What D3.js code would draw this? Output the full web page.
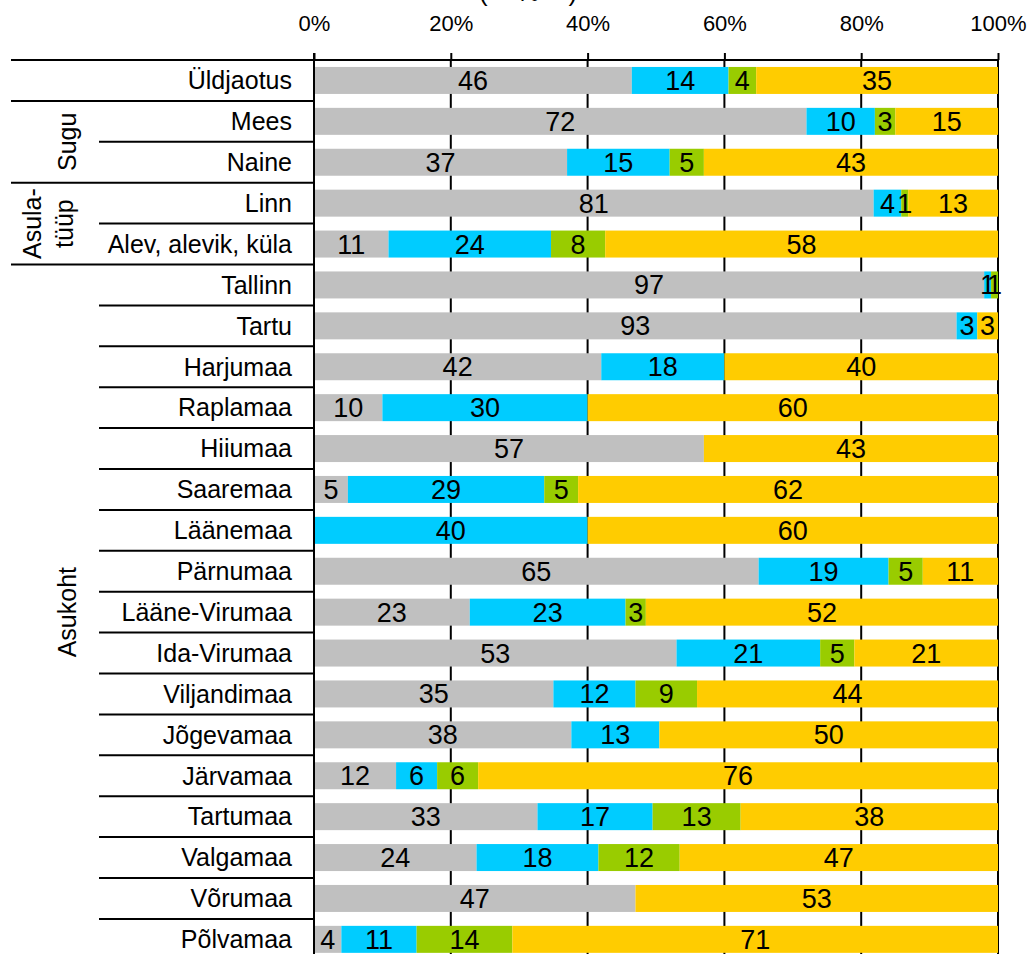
<!DOCTYPE html>
<html>
<head>
<meta charset="utf-8">
<script src="https://cdn.jsdelivr.net/npm/d3@7"></script>
<style>
  body { margin: 0; background: #fff; }
  svg { display: block; font-family: "Liberation Sans", Arial, sans-serif; }
</style>
</head>
<body>
<div id="wrapper"></div>
<script>
// kategooriad ja väärtused (%)
const categories = ["Üldjaotus", "Mees", "Naine", "Linn", "Alev, alevik, küla",
    "Tallinn", "Tartu", "Harjumaa", "Raplamaa", "Hiiumaa", "Saaremaa", "Läänemaa",
    "Pärnumaa", "Lääne-Virumaa", "Ida-Virumaa", "Viljandimaa", "Jõgevamaa",
    "Järvamaa", "Tartumaa", "Valgamaa", "Võrumaa", "Põlvamaa"];
const greyValues  = [46, 72, 37, 81, 11, 97, 93, 42, 10, 57,  5,  0, 65, 23, 53, 35, 38, 12, 33, 24, 47,  4];
const cyanValues  = [14, 10, 15,  4, 24,  1,  3, 18, 30,  0, 29, 40, 19, 23, 21, 12, 13,  6, 17, 18,  0, 11];
const greenValues = [ 4,  3,  5,  1,  8,  1,  0,  0,  0,  0,  5,  0,  5,  3,  5,  9,  0,  6, 13, 12,  0, 14];
const goldValues  = [35, 15, 43, 13, 58,  0,  3, 40, 60, 43, 62, 60, 11, 52, 21, 44, 50, 76, 38, 47, 53, 71];
const seriesKeys = ["grey", "cyan", "green", "gold"];
const seriesColors = ["#C0C0C0", "#00CCFF", "#99CC00", "#FFCC00"];
const groupLabels = [[], ["Sugu"], ["Asula-", "tüüp"], ["Asukoht"]];
const groupSizes = [1, 2, 2, 17];
const tickValues = [0, 0.2, 0.4, 0.6, 0.8, 1];

const table = categories.map((c, i) => ({
    name: c, grey: greyValues[i], cyan: cyanValues[i], green: greenValues[i], gold: goldValues[i]
}));

let dimension = { width: 1032, height: 954, left: 314, right: 998, top: 60, rowStep: 40.9 };
const bottom = dimension.top + dimension.rowStep * categories.length;

const svg = d3.select("#wrapper")
    .append("svg")
    .attr("width", dimension.width)
    .attr("height", dimension.height);

const xScaler = d3.scaleLinear().domain([0, 1]).range([dimension.left, dimension.right]);
const yScaler = d3.scaleBand()
    .domain(categories)
    .range([dimension.top, bottom])
    .paddingInner(0.34)
    .paddingOuter(0.17);

const stacked = d3.stack()
    .keys(seriesKeys)
    .offset(d3.stackOffsetExpand)(table);

// pealkiri (lõigatud ülaservas)
svg.append("text")
    .attr("x", 528)
    .attr("y", 1)
    .attr("text-anchor", "middle")
    .attr("font-size", "26px")
    .style("white-space", "pre")
    .text("(    %    )");

// ruudustik
svg.append("g").selectAll("line")
    .data(tickValues.slice(1))
    .join("line")
    .attr("x1", d => xScaler(d))
    .attr("x2", d => xScaler(d))
    .attr("y1", dimension.top)
    .attr("y2", bottom)
    .attr("stroke", "#000")
    .attr("stroke-width", 2);

// ribad
const layers = svg.append("g").selectAll("g")
    .data(stacked)
    .join("g")
    .attr("fill", (d, i) => seriesColors[i]);

layers.selectAll("rect")
    .data(d => d.filter(s => s[1] - s[0] > 0))
    .join("rect")
    .attr("x", d => xScaler(d[0]))
    .attr("y", d => yScaler(d.data.name))
    .attr("width", d => xScaler(d[1]) - xScaler(d[0]))
    .attr("height", yScaler.bandwidth());

// väärtuste sildid
stacked.forEach((layer) => {
    svg.append("g").selectAll("text")
        .data(layer.filter(s => s.data[layer.key] > 0))
        .join("text")
        .attr("x", d => xScaler((d[0] + d[1]) / 2))
        .attr("y", d => yScaler(d.data.name) + yScaler.bandwidth() / 2)
        .attr("dy", "0.35em")
        .attr("text-anchor", "middle")
        .attr("font-size", "27px")
        .attr("fill", "#000")
        .text(d => d.data[layer.key]);
});

// ülemine telg
const xAxisGen = d3.axisTop(xScaler)
    .tickValues(tickValues)
    .tickSize(7)
    .tickPadding(22)
    .tickFormat(d3.format(".0%"));

const xAxis = svg.append("g")
    .attr("transform", `translate(0, ${dimension.top})`)
    .call(xAxisGen);
xAxis.select(".domain").remove();
xAxis.selectAll(".tick line").attr("stroke", "#000").attr("stroke-width", 2);
xAxis.selectAll(".tick text")
    .attr("font-size", "22px")
    .attr("font-family", "Liberation Sans, Arial, sans-serif")
    .attr("fill", "#000");

svg.append("line")
    .attr("x1", 11).attr("x2", dimension.right)
    .attr("y1", dimension.top).attr("y2", dimension.top)
    .attr("stroke", "#000").attr("stroke-width", 2);

svg.append("line")
    .attr("x1", dimension.left).attr("x2", dimension.left)
    .attr("y1", dimension.top - 7).attr("y2", bottom)
    .attr("stroke", "#000").attr("stroke-width", 2);

// kategooriate sildid
svg.append("g").selectAll("text")
    .data(categories)
    .join("text")
    .attr("x", 292)
    .attr("y", d => yScaler(d) + yScaler.bandwidth() / 2)
    .attr("dy", "0.35em")
    .attr("text-anchor", "end")
    .attr("font-size", "25px")
    .text(d => d);

// eraldusjooned ja grupid
let start = 0;
groupSizes.forEach((size, g) => {
    for (let k = 1; k <= size; k++) {
        const idx = start + k;
        const yLine = dimension.top + dimension.rowStep * idx;
        svg.append("line")
            .attr("x1", k == size ? 11 : 99)
            .attr("x2", dimension.left)
            .attr("y1", yLine).attr("y2", yLine)
            .attr("stroke", "#000").attr("stroke-width", 2);
    }
    const yMid = dimension.top + dimension.rowStep * (start + size / 2);
    const lines = groupLabels[g];
    lines.forEach((txt, j) => {
        const xPos = lines.length == 1 ? 67 : 32 + j * 32;
        svg.append("text")
            .attr("transform", `translate(${xPos}, ${yMid}) rotate(-90)`)
            .attr("text-anchor", "middle")
            .attr("dominant-baseline", "central")
            .attr("font-size", "25px")
            .text(txt);
    });
    start += size;
});
</script>
</body>
</html>
